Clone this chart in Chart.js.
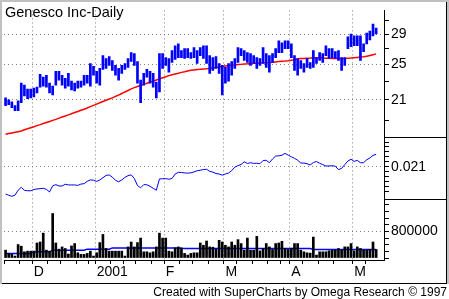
<!DOCTYPE html>
<html>
<head>
<meta charset="utf-8">
<script src="https://cdn.jsdelivr.net/npm/chart.js@4.4.0/dist/chart.umd.min.js"></script>
<style>
  html, body { margin: 0; padding: 0; background: #fff; }
  #wrap { position: relative; width: 449px; height: 299px; overflow: hidden; }
  #title { position: absolute; left: 5px; top: 4px; font: 14.5px "Liberation Sans", Arial, sans-serif; color: #000; white-space: nowrap; }
  #credit { position: absolute; right: 2px; top: 285px; font: 12px "Liberation Sans", Arial, sans-serif; color: #000; white-space: nowrap; }
</style>
</head>
<body>
<div id="wrap">
  <canvas id="chart" width="449" height="299"></canvas>
  <div id="title">Genesco Inc-Daily</div>
  <div id="credit">Created with SuperCharts by Omega Research © 1997</div>
</div>
<script>
'use strict';

// ── Data (daily bars, mid Nov 2000 → early May 2001) ─────
const highs = [
  21.21, 21.01, 20.80, 20.41, 20.90, 22.79, 22.58, 22.15, 22.15, 22.25,
  22.36, 23.81, 23.47, 23.69, 22.79, 22.47, 24.16, 24.16, 23.69, 23.35,
  23.92, 23.02, 22.79, 23.02, 23.02, 23.69, 23.69, 25.10, 24.75, 24.16,
  24.51, 26.09, 25.72, 25.97, 25.47, 24.86, 24.51, 24.86, 25.10, 25.72,
  26.47, 26.34, 25.35, 23.13, 23.92, 24.39, 24.16, 23.92, 22.90, 26.34,
  26.34, 25.84, 25.72, 26.73, 27.38, 27.64, 26.73, 26.99, 26.99, 26.47,
  27.12, 26.73, 27.12, 27.38, 27.38, 26.09, 25.84, 25.97, 25.10, 24.86,
  24.63, 25.10, 25.35, 25.72, 27.12, 26.99, 26.73, 26.47, 26.34, 26.09,
  25.84, 25.72, 27.12, 26.34, 26.09, 26.34, 26.99, 28.05, 27.78, 28.05,
  28.05, 27.64, 26.09, 25.72, 25.47, 25.10, 25.72, 25.22, 26.73, 25.84,
  26.47, 26.34, 27.38, 26.99, 26.99, 26.60, 26.73, 25.84, 25.84, 28.59,
  29.00, 28.73, 28.73, 28.73, 27.64, 29.14, 29.43, 30.43, 29.86
];
const lows = [
  20.41, 20.51, 20.22, 19.92, 19.92, 20.70, 21.41, 21.11, 21.21, 21.31,
  21.72, 22.36, 22.47, 22.36, 21.72, 21.52, 22.58, 23.13, 22.58, 22.25,
  22.47, 22.04, 21.93, 22.25, 22.36, 22.58, 22.79, 22.47, 23.69, 22.79,
  22.58, 24.39, 24.51, 24.86, 24.27, 23.69, 23.13, 23.92, 24.39, 24.63,
  25.35, 24.86, 22.79, 20.70, 22.58, 23.47, 22.79, 22.36, 21.21, 21.83,
  24.51, 24.86, 24.04, 25.22, 25.60, 25.84, 25.84, 25.72, 25.84, 25.72,
  25.84, 25.10, 26.09, 25.72, 25.10, 23.92, 24.27, 24.51, 23.92, 21.52,
  22.79, 23.02, 23.69, 24.51, 25.22, 26.09, 25.47, 25.22, 24.86, 25.10,
  24.51, 24.86, 25.10, 24.63, 24.04, 25.22, 25.84, 26.47, 26.47, 26.99,
  26.99, 25.84, 24.27, 23.69, 24.51, 24.04, 24.63, 24.51, 24.63, 25.10,
  25.47, 25.22, 26.09, 25.72, 25.84, 25.72, 25.47, 24.27, 24.86, 26.99,
  27.25, 27.38, 27.38, 25.47, 26.60, 27.64, 28.18, 28.73, 29.00
];
const movingAvg = [
  17.74, 17.80, 17.86, 17.91, 17.97, 18.03, 18.13, 18.22, 18.32, 18.41,
  18.51, 18.60, 18.70, 18.79, 18.88, 18.99, 19.08, 19.20, 19.30, 19.40,
  19.51, 19.62, 19.73, 19.83, 19.95, 20.06, 20.18, 20.31, 20.44, 20.57,
  20.70, 20.83, 20.96, 21.09, 21.21, 21.36, 21.50, 21.66, 21.83, 21.99,
  22.16, 22.30, 22.42, 22.54, 22.66, 22.78, 22.90, 23.02, 23.15, 23.27,
  23.40, 23.52, 23.65, 23.75, 23.84, 23.93, 24.03, 24.11, 24.20, 24.28,
  24.32, 24.36, 24.39, 24.43, 24.46, 24.50, 24.55, 24.61, 24.67, 24.72,
  24.78, 24.84, 24.89, 24.92, 24.96, 24.99, 25.03, 25.06, 25.10, 25.12,
  25.14, 25.16, 25.18, 25.20, 25.22, 25.25, 25.29, 25.33, 25.37, 25.40,
  25.44, 25.49, 25.57, 25.65, 25.71, 25.73, 25.76, 25.77, 25.79, 25.81,
  25.83, 25.78, 25.76, 25.74, 25.72, 25.71, 25.71, 25.71, 25.72, 25.75,
  25.78, 25.82, 25.86, 25.90, 25.93, 26.00, 26.11, 26.21, 26.31
];
const indicator = [
  0.01821, 0.01809, 0.01798, 0.01810, 0.01860, 0.01890, 0.01859, 0.01855, 0.01854, 0.01868,
  0.01873, 0.01876, 0.01880, 0.01869, 0.01842, 0.01905, 0.01917, 0.01903, 0.01903, 0.01921,
  0.01914, 0.01914, 0.01914, 0.01909, 0.01923, 0.01926, 0.01951, 0.01965, 0.01962, 0.01950,
  0.01964, 0.01987, 0.02010, 0.02016, 0.01993, 0.01961, 0.01946, 0.01965, 0.01990, 0.02009,
  0.02016, 0.01980, 0.01907, 0.01885, 0.01917, 0.01916, 0.01900, 0.01880, 0.01860, 0.01975,
  0.01977, 0.01978, 0.01972, 0.01980, 0.02025, 0.02042, 0.02040, 0.02036, 0.02034, 0.02037,
  0.02046, 0.02058, 0.02064, 0.02070, 0.02073, 0.02052, 0.02044, 0.02030, 0.02025, 0.02014,
  0.02025, 0.02035, 0.02060, 0.02095, 0.02110, 0.02122, 0.02150, 0.02132, 0.02140, 0.02133,
  0.02135, 0.02130, 0.02162, 0.02165, 0.02140, 0.02178, 0.02208, 0.02210, 0.02216, 0.02235,
  0.02217, 0.02200, 0.02185, 0.02165, 0.02137, 0.02136, 0.02130, 0.02117, 0.02142, 0.02152,
  0.02135, 0.02121, 0.02106, 0.02107, 0.02109, 0.02105, 0.02070, 0.02082, 0.02120, 0.02157,
  0.02175, 0.02153, 0.02164, 0.02140, 0.02140, 0.02170, 0.02188, 0.02215, 0.02225
];
const volume = [
  237000, 139000, 110000, 59000, 406000, 356000, 187000, 207000, 207000, 207000,
  453000, 483000, 750000, 237000, 207000, 1342000, 453000, 267000, 335000, 287000,
  119000, 364000, 436000, 157000, 110000, 110000, 139000, 207000, 59000, 157000,
  465000, 711000, 287000, 207000, 207000, 207000, 207000, 207000, 59000, 335000,
  483000, 335000, 465000, 601000, 187000, 187000, 157000, 187000, 335000, 750000,
  601000, 601000, 207000, 187000, 305000, 335000, 305000, 139000, 89000, 139000,
  157000, 157000, 453000, 385000, 513000, 335000, 326000, 267000, 533000, 483000,
  385000, 335000, 483000, 385000, 554000, 436000, 237000, 601000, 237000, 237000,
  652000, 216000, 287000, 436000, 335000, 258000, 436000, 453000, 504000, 287000,
  258000, 296000, 436000, 436000, 237000, 187000, 157000, 148000, 631000, 89000,
  187000, 187000, 187000, 216000, 237000, 237000, 287000, 237000, 335000, 335000,
  436000, 216000, 335000, 287000, 237000, 237000, 258000, 483000, 258000
];
const volumeAvg = [
  139000, 139000, 139000, 139000, 139000, 139000, 139000, 139000, 139000, 187000,
  187000, 187000, 187000, 187000, 187000, 237000, 237000, 237000, 237000, 237000,
  237000, 237000, 237000, 237000, 237000, 237000, 267000, 267000, 267000, 267000,
  267000, 267000, 267000, 267000, 305000, 305000, 305000, 305000, 305000, 305000,
  305000, 305000, 305000, 305000, 305000, 305000, 305000, 305000, 305000, 305000,
  305000, 305000, 305000, 305000, 305000, 305000, 295000, 290000, 287000, 287000,
  287000, 287000, 287000, 287000, 287000, 287000, 287000, 287000, 287000, 287000,
  287000, 287000, 287000, 287000, 287000, 287000, 287000, 287000, 287000, 287000,
  287000, 287000, 287000, 287000, 287000, 287000, 287000, 287000, 287000, 287000,
  287000, 287000, 287000, 287000, 287000, 287000, 287000, 287000, 258000, 258000,
  258000, 258000, 258000, 258000, 258000, 258000, 258000, 258000, 258000, 258000,
  258000, 258000, 258000, 258000, 258000, 258000, 258000, 258000, 258000
];

// calendar: first bar of each month / week, month captions
const monthStarts = [9, 29, 51, 70, 91, 111];
const monthNames  = ['D', '2001', 'F', 'M', 'A', 'M'];
const weekStarts  = [0, 5, 14, 18, 23, 27, 34, 38, 42, 47, 56, 60, 65, 74, 79, 84, 88, 95, 100, 105, 115];
const SLOTS = 121;   // bar slots on the time axis (2 empty at the right)

// axis ticks
const priceTicks  = [19, 21, 23, 25, 27, 29, 31];
const priceLabels = [21, 25, 29];
const indTicks    = [0.0185, 0.019, 0.0195, 0.02, 0.0205, 0.021, 0.0215, 0.022, 0.0225, 0.023, 0.0235];
const indLabel    = 0.021;
const volTicks    = [0, 200000, 400000, 600000, 800000, 1000000, 1200000, 1400000, 1600000];
const volLabel    = 800000;

// ── Chart ───────────────────────────────────────────────
const FONT   = { family: '"Liberation Sans", Arial, sans-serif', size: 14 };
const DOT    = '#808080';
const NONE   = 'rgba(0,0,0,0)';
const AXIS_W = 63;
const DASH   = [1, 3];

const xLabels = Array.from({ length: SLOTS }, (_, i) => {
  const m = monthStarts.indexOf(i);
  return m >= 0 ? monthNames[m] : '';
});

const near = (a, b) => Math.abs(a - b) < 1e-9;

function rightAxis(extra) {
  return Object.assign({
    position: 'right',
    stack: 'panes',
    border: { color: '#000', width: 1, dash: DASH },
    afterFit: (s) => { s.width = AXIS_W; },
  }, extra);
}

const framePlugin = {
  id: 'frame',
  beforeDraw(chart) {
    const { ctx } = chart;
    ctx.save();
    ctx.fillStyle = '#fff';
    ctx.fillRect(0, 0, chart.width, chart.height);
    ctx.restore();
  },
  afterDraw(chart) {
    const { ctx, chartArea, scales } = chart;
    ctx.save();
    ctx.strokeStyle = '#000';
    ctx.lineWidth = 1;
    [scales.ind.top, scales.vol.top].forEach((y) => {
      const yy = Math.round(y) + 0.5;
      ctx.beginPath();
      ctx.moveTo(chartArea.right, yy);
      ctx.lineTo(chart.width - 3, yy);
      ctx.stroke();
    });
    // window border
    ctx.fillStyle = '#c0c0c0';
    ctx.fillRect(0, 0, chart.width, 2);
    ctx.fillRect(0, 0, 2, 284);
    ctx.fillRect(chart.width - 2, 0, 2, 284);
    ctx.fillStyle = '#000';
    ctx.fillRect(2, 283, chart.width - 4, 1);
    ctx.fillRect(chart.width - 3, 2, 1, 281);
    ctx.restore();
  },
};

new Chart(document.getElementById('chart'), {
  type: 'bar',
  data: {
    labels: xLabels,
    datasets: [
      {
        type: 'bar',
        label: 'Price',
        yAxisID: 'price',
        data: lows.map((lo, i) => [lo, highs[i]]),
        backgroundColor: '#0000ff',
        barThickness: 2,
        grouped: false,
      },
      {
        type: 'line',
        label: 'Average',
        yAxisID: 'price',
        data: movingAvg,
        borderColor: '#ff0000',
        borderWidth: 1.5,
        pointRadius: 0,
        tension: 0,
      },
      {
        type: 'line',
        label: 'Indicator',
        yAxisID: 'ind',
        data: indicator,
        borderColor: '#0000ff',
        borderWidth: 1,
        pointRadius: 0,
        tension: 0,
      },
      {
        type: 'bar',
        label: 'Volume',
        yAxisID: 'vol',
        data: volume,
        backgroundColor: '#000',
        barThickness: 2,
        grouped: false,
      },
      {
        type: 'line',
        label: 'Volume avg',
        yAxisID: 'vol',
        data: volumeAvg,
        borderColor: '#0000ff',
        borderWidth: 1.5,
        pointRadius: 0,
        tension: 0,
      },
    ],
  },
  options: {
    responsive: false,
    animation: false,
    events: [],
    layout: { padding: { left: 4, top: 6, right: 2, bottom: 17 } },
    plugins: { legend: { display: false }, tooltip: { enabled: false } },
    scales: {
      x: {
        type: 'category',
        offset: true,
        grid: {
          offset: true,
          color: (c) => monthStarts.includes(c.index) ? DOT : NONE,
          tickColor: (c) => (monthStarts.includes(c.index) || weekStarts.includes(c.index)) ? '#000' : NONE,
          tickLength: 4,
        },
        border: { color: '#000', width: 1, dash: DASH },
        ticks: {
          autoSkip: false,
          maxRotation: 0,
          align: 'start',
          padding: 0,
          color: '#000',
          font: FONT,
          callback: (v, i) => xLabels[i],
        },
        afterFit: (s) => { s.height = 22; },
      },
      price: rightAxis({
        type: 'logarithmic',
        stackWeight: 129,
        min: 17.49,
        max: 32.56,
        afterBuildTicks: (s) => { s.ticks = priceTicks.map((v) => ({ value: v })); },
        grid: {
          color: (c) => (c.tick && priceLabels.includes(c.tick.value)) ? DOT : NONE,
          tickColor: '#000',
          tickLength: 5,
        },
        ticks: {
          autoSkip: false,
          padding: 2,
          color: '#000',
          font: FONT,
          callback: (v) => priceLabels.includes(v) ? String(v) : '',
        },
      }),
      ind: rightAxis({
        type: 'linear',
        stackWeight: 63,
        min: 0.0177,
        max: 0.024,
        afterBuildTicks: (s) => { s.ticks = indTicks.map((v) => ({ value: v })); },
        grid: {
          color: (c) => (c.tick && near(c.tick.value, indLabel)) ? DOT : NONE,
          tickColor: '#000',
          tickLength: 5,
        },
        ticks: {
          autoSkip: false,
          padding: 2,
          color: '#000',
          font: FONT,
          callback: (v) => near(v, indLabel) ? '0.021' : '',
        },
      }),
      vol: rightAxis({
        type: 'linear',
        stackWeight: 62,
        min: -60000,
        max: 1777000,
        afterBuildTicks: (s) => { s.ticks = volTicks.map((v) => ({ value: v })); },
        grid: {
          color: (c) => (c.tick && c.tick.value === volLabel) ? DOT : NONE,
          tickColor: '#000',
          tickLength: 5,
        },
        ticks: {
          autoSkip: false,
          padding: 2,
          color: '#000',
          font: FONT,
          callback: (v) => v === volLabel ? String(v) : '',
        },
      }),
    },
  },
  plugins: [framePlugin],
});
</script>
</body>
</html>
